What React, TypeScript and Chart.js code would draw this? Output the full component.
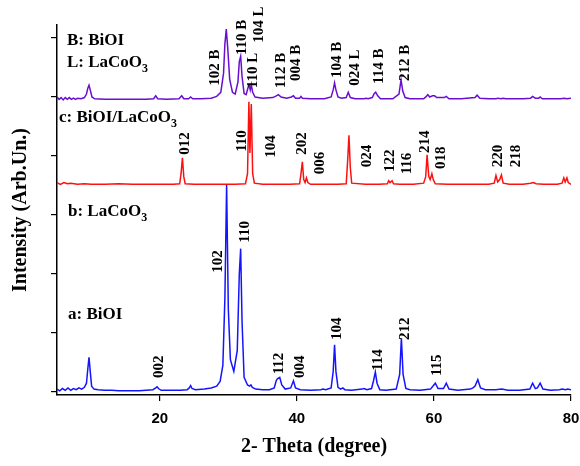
import React, { useEffect, useRef } from "react";
import { Chart, registerables } from "chart.js";

Chart.register(...registerables);

// ---- Data (2-theta in degrees, intensity in arbitrary offset units) ----
const aBiOI_X = [5.0, 5.4, 5.8, 6.2, 6.6, 7.0, 7.4, 7.8, 8.2, 8.6, 9.0, 9.3, 9.5, 9.67, 9.85, 10.05, 10.4, 11, 12, 13, 14, 15, 16, 17, 18, 19, 19.4, 19.6, 19.8, 20.2, 21.5, 23, 24, 24.3, 24.5, 24.7, 25.2, 26.5, 27.5, 28.3, 28.8, 29.2, 29.5, 29.75, 30.0, 30.3, 30.8, 31.3, 31.6, 31.8, 32.0, 32.3, 32.8, 33.1, 33.3, 33.5, 34, 35, 36, 36.7, 37.0, 37.2, 37.5, 37.8, 38.3, 39.1, 39.5, 39.8, 40.5, 42, 43.5, 43.8, 44.2, 45.0, 45.3, 45.5, 45.7, 46.0, 46.4, 46.7, 47.0, 48, 49.5, 49.8, 50.2, 50.9, 51.2, 51.45, 51.7, 52.1, 53, 54.5, 55.0, 55.25, 55.5, 55.9, 56.5, 58, 59.5, 60.2, 60.6, 61.4, 61.8, 62.2, 63.5, 65.3, 65.7, 66.0, 66.4, 66.8, 67.5, 69.0, 69.9, 70.8, 72.5, 74.0, 74.4, 74.8, 75.1, 75.5, 75.9, 77, 78.3, 78.7, 79.2, 79.5, 80];
const aBiOI_Y = [0.05, 0.02, 0.06, 0.03, 0.07, 0.03, 0.06, 0.04, 0.07, 0.05, 0.08, 0.15, 0.40, 0.59, 0.35, 0.10, 0.05, 0.04, 0.03, 0.03, 0.02, 0.02, 0.02, 0.02, 0.03, 0.04, 0.07, 0.09, 0.06, 0.03, 0.03, 0.03, 0.04, 0.07, 0.11, 0.06, 0.04, 0.05, 0.07, 0.10, 0.18, 0.45, 1.6, 3.51, 1.4, 0.55, 0.35, 0.7, 2.0, 2.43, 1.2, 0.25, 0.12, 0.10, 0.12, 0.08, 0.05, 0.04, 0.04, 0.07, 0.20, 0.23, 0.25, 0.12, 0.05, 0.07, 0.19, 0.07, 0.04, 0.03, 0.04, 0.05, 0.04, 0.07, 0.35, 0.80, 0.35, 0.08, 0.05, 0.07, 0.04, 0.03, 0.05, 0.06, 0.04, 0.06, 0.20, 0.34, 0.15, 0.04, 0.03, 0.05, 0.30, 0.91, 0.30, 0.06, 0.04, 0.03, 0.05, 0.15, 0.06, 0.06, 0.15, 0.05, 0.03, 0.05, 0.07, 0.10, 0.21, 0.07, 0.04, 0.04, 0.05, 0.03, 0.03, 0.05, 0.15, 0.06, 0.07, 0.15, 0.05, 0.03, 0.04, 0.05, 0.04, 0.05, 0.04];

const cComp_X = [5, 5.5, 6, 6.5, 7, 8, 9, 10, 12, 14, 16, 18, 20, 22, 22.9, 23.1, 23.3, 23.5, 23.7, 25, 27, 29, 31, 32.5, 32.8, 33.0, 33.15, 33.35, 33.55, 33.8, 35, 37, 39, 40.4, 40.6, 40.8, 41.0, 41.2, 41.4, 41.6, 42, 44, 46, 47.2, 47.4, 47.6, 47.8, 48.0, 50, 52, 53.2, 53.4, 53.6, 53.9, 54.1, 55, 57, 58.5, 58.8, 59.0, 59.25, 59.45, 59.7, 59.9, 60.2, 62, 64, 66, 68, 68.8, 69.05, 69.3, 69.6, 69.85, 70.1, 71, 73, 74.1, 74.5, 74.9, 76, 78, 78.7, 78.95, 79.15, 79.4, 79.6, 80];
const cComp_Y = [3.55, 3.52, 3.55, 3.53, 3.54, 3.52, 3.53, 3.52, 3.52, 3.53, 3.52, 3.52, 3.52, 3.52, 3.53, 3.7, 3.97, 3.65, 3.53, 3.52, 3.52, 3.52, 3.52, 3.53, 3.7, 4.92, 4.05, 4.88, 3.7, 3.54, 3.52, 3.52, 3.52, 3.53, 3.7, 3.90, 3.6, 3.55, 3.63, 3.55, 3.52, 3.52, 3.52, 3.53, 3.9, 4.35, 3.8, 3.54, 3.52, 3.52, 3.53, 3.58, 3.55, 3.58, 3.53, 3.52, 3.52, 3.54, 3.65, 4.02, 3.65, 3.6, 3.70, 3.6, 3.53, 3.52, 3.52, 3.52, 3.52, 3.54, 3.67, 3.56, 3.6, 3.68, 3.54, 3.52, 3.52, 3.54, 3.55, 3.53, 3.52, 3.52, 3.54, 3.63, 3.56, 3.63, 3.55, 3.52];

const bPlot_X = [5, 5.3, 5.6, 5.9, 6.2, 6.5, 6.8, 7.1, 7.4, 7.7, 8.0, 8.5, 9.0, 9.3, 9.5, 9.67, 9.85, 10.1, 10.5, 12, 14, 16, 18, 19.1, 19.4, 19.7, 21, 22.8, 23.2, 23.5, 24.2, 24.5, 24.8, 26, 27.5, 28.3, 28.9, 29.3, 29.5, 29.7, 29.9, 30.2, 30.6, 31.0, 31.4, 31.6, 31.8, 32.0, 32.3, 32.6, 32.9, 33.05, 33.2, 33.35, 33.55, 33.9, 35, 36.5, 37.0, 37.3, 37.7, 38.5, 39.2, 39.5, 39.8, 40.4, 40.6, 40.8, 42, 44, 45.0, 45.3, 45.5, 45.7, 46.0, 46.5, 47.2, 47.5, 47.8, 48.5, 49.8, 50.1, 50.4, 51.0, 51.3, 51.5, 51.8, 52.2, 54, 54.9, 55.2, 55.45, 55.8, 56.5, 58.5, 58.9, 59.1, 59.4, 59.8, 60.1, 60.4, 61.5, 61.8, 62.2, 64, 66.0, 66.3, 66.7, 68, 69.1, 69.3, 69.8, 70.1, 70.5, 73, 74.1, 74.4, 74.8, 75.3, 75.5, 75.8, 77, 78.5, 79.0, 79.4, 80];
const bPlot_Y = [5.0, 4.96, 4.99, 4.95, 4.99, 4.96, 4.99, 4.96, 4.98, 4.96, 4.98, 4.97, 4.99, 5.05, 5.15, 5.20, 5.12, 5.0, 4.97, 4.96, 4.96, 4.96, 4.96, 4.97, 5.02, 4.97, 4.96, 4.97, 5.02, 4.97, 4.97, 5.0, 4.97, 4.97, 4.98, 5.01, 5.08, 5.4, 5.9, 6.15, 5.85, 5.3, 5.08, 5.05, 5.25, 5.6, 5.69, 5.35, 5.06, 5.04, 5.17, 5.19, 5.12, 5.21, 5.08, 5.0, 4.98, 4.99, 5.02, 5.04, 5.0, 4.98, 5.0, 5.02, 4.98, 4.98, 5.01, 4.98, 4.97, 4.97, 5.0, 5.12, 5.24, 5.12, 5.0, 4.98, 4.99, 5.08, 4.99, 4.97, 4.97, 4.98, 4.97, 4.99, 5.06, 5.08, 5.02, 4.97, 4.97, 5.05, 5.29, 5.1, 4.99, 4.97, 4.97, 5.01, 5.04, 5.0, 5.02, 5.02, 4.99, 4.99, 5.01, 4.97, 4.97, 4.99, 5.03, 4.98, 4.97, 4.97, 4.98, 4.97, 4.98, 4.97, 4.97, 4.98, 5.01, 4.98, 4.98, 5.0, 4.97, 4.97, 4.97, 4.98, 4.97, 4.98];

const xTicks = [20, 40, 60, 80];
const yTicks = [0, 1, 2, 3, 4, 5, 6];

// Peak index labels: text, 2-theta, intensity where text starts
const labelsTop = ["102 B", "110 B", "110 L", "104 L", "112 B", "004 B", "104 B", "024 L", "114 B", "212 B"];
const labelsTopX = [27.9, 31.9, 33.4, 34.3, 37.5, 39.7, 45.8, 48.4, 51.8, 55.6];
const labelsTopY = [5.19, 5.71, 5.15, 5.92, 5.15, 5.27, 5.32, 5.19, 5.22, 5.27];

const labelsMid = ["012", "110", "104", "202", "006", "024", "122", "116", "214", "018", "220", "218"];
const labelsMidX = [23.5, 31.8, 36.05, 40.6, 43.2, 50.1, 53.4, 55.9, 58.6, 60.9, 69.2, 71.8];
const labelsMidY = [4.02, 4.07, 3.97, 4.02, 3.69, 3.81, 3.73, 3.69, 4.05, 3.78, 3.81, 3.81];

const labelsLow = ["102", "110", "002", "112", "004", "104", "114", "212", "115"];
const labelsLowX = [28.3, 32.3, 19.7, 37.2, 40.3, 45.8, 51.7, 55.6, 60.3];
const labelsLowY = [2.02, 2.53, 0.24, 0.30, 0.24, 0.88, 0.36, 0.88, 0.27];

const SERIF = "'Liberation Serif', 'Times New Roman', serif";
const SANS = "'Liberation Sans', Arial, sans-serif";

const toPts = (xs: number[], ys: number[]) => xs.map((x, i) => ({ x, y: ys[i] }));

const annotate = {
  id: "annotate",
  afterDatasetsDraw(chart: any) {
    const ctx = chart.ctx;
    const xs = chart.scales.x;
    const ys = chart.scales.y;
    ctx.save();
    ctx.fillStyle = "#000";
    ctx.font = `bold 15px ${SERIF}`;
    ctx.textAlign = "left";
    ctx.textBaseline = "middle";
    const groups: [string[], number[], number[]][] = [
      [labelsTop, labelsTopX, labelsTopY],
      [labelsMid, labelsMidX, labelsMidY],
      [labelsLow, labelsLowX, labelsLowY],
    ];
    for (const [t, gx, gy] of groups) {
      t.forEach((s, i) => {
        const px = xs.getPixelForValue(gx[i]);
        const py = ys.getPixelForValue(gy[i]);
        ctx.save();
        ctx.translate(px, py);
        ctx.rotate(-Math.PI / 2);
        ctx.fillText(s, 0, 1);
        ctx.restore();
      });
    }
    const drawName = (parts: [string, boolean][], x: number, y: number) => {
      let cx = x;
      for (const [s, sub] of parts) {
        ctx.font = sub ? `bold 12px ${SERIF}` : `bold 17px ${SERIF}`;
        ctx.textBaseline = "middle";
        ctx.fillText(s, cx, sub ? y + 6 : y);
        cx += ctx.measureText(s).width;
      }
    };
    drawName([["B: BiOI", false]], 67, 41);
    drawName([["L: LaCoO", false], ["3", true]], 67, 63);
    drawName([["c: BiOI/LaCoO", false], ["3", true]], 59, 118);
    drawName([["b: LaCoO", false], ["3", true]], 68, 212);
    drawName([["a: BiOI", false]], 68, 315);
    ctx.restore();
  },
};

export default function App() {
  const ref = useRef<HTMLCanvasElement | null>(null);
  useEffect(() => {
    if (!ref.current) return;
    const chart = new Chart(ref.current, {
      type: "line",
      data: {
        datasets: [
          { label: "a: BiOI", data: toPts(aBiOI_X, aBiOI_Y), borderColor: "#1414ff", borderWidth: 1.5, pointRadius: 0, tension: 0 },
          { label: "c: BiOI/LaCoO3", data: toPts(cComp_X, cComp_Y), borderColor: "#ff1010", borderWidth: 1.5, pointRadius: 0, tension: 0 },
          { label: "B/L", data: toPts(bPlot_X, bPlot_Y), borderColor: "#6a0fd0", borderWidth: 1.5, pointRadius: 0, tension: 0 },
        ],
      },
      options: {
        animation: false,
        responsive: true,
        maintainAspectRatio: false,
        layout: { padding: { top: 25, right: 9, left: 0, bottom: 0 } },
        plugins: { legend: { display: false }, tooltip: { enabled: false } },
        scales: {
          x: {
            type: "linear",
            min: 5,
            max: 80,
            afterBuildTicks: (s: any) => { s.ticks = xTicks.map((v) => ({ value: v })); },
            afterFit: (s: any) => { s.height = 71; s.paddingLeft = 0; s.paddingRight = 0; },
            ticks: { color: "#000", font: { family: SANS, size: 15, weight: "bold" }, padding: 9, maxRotation: 0 },
            grid: { drawOnChartArea: false, drawTicks: true, tickLength: 6, color: "#000", lineWidth: 1.2 },
            border: { display: true, color: "#000", width: 1.5 },
            title: { display: true, text: "2- Theta (degree)", color: "#000", font: { family: SERIF, size: 20, weight: "bold" }, padding: { top: 0, bottom: 7 } },
          },
          y: {
            type: "linear",
            min: -0.05,
            max: 6.22,
            afterBuildTicks: (s: any) => { s.ticks = yTicks.map((v) => ({ value: v })); },
            afterFit: (s: any) => { s.width = 57; s.paddingTop = 0; s.paddingBottom = 0; },
            ticks: { display: false },
            grid: { drawOnChartArea: false, drawTicks: true, tickLength: 6, color: "#000", lineWidth: 1.2 },
            border: { display: true, color: "#000", width: 1.5 },
            title: { display: true, text: "Intensity (Arb.Un.)", color: "#000", font: { family: SERIF, size: 20, weight: "bold" }, padding: { top: 9, bottom: 0 } },
          },
        },
      },
      plugins: [annotate],
    });
    return () => chart.destroy();
  }, []);
  return (
    <div style={{ position: "fixed", left: 0, top: 0, width: 580, height: 466, background: "#fff" }}>
      <canvas ref={ref} />
    </div>
  );
}
